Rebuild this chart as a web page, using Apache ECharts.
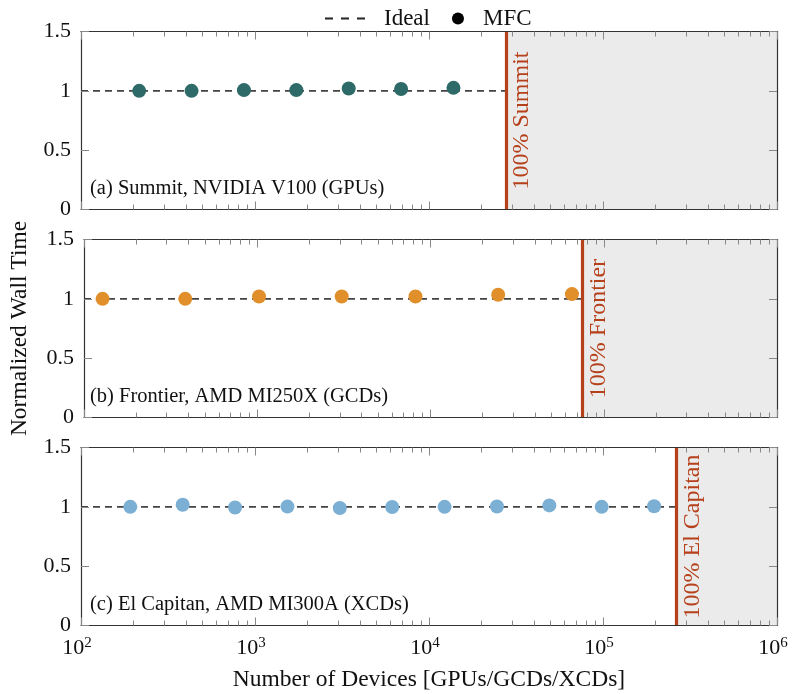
<!DOCTYPE html>
<html><head><meta charset="utf-8">
<script src="https://cdn.jsdelivr.net/npm/echarts@6/dist/echarts.min.js"></script>
<style>html,body{margin:0;padding:0;background:#fff}#c{width:793px;height:694px}</style>
</head><body><div id="c"></div>
<script>
// ---- data ----
const panelTitles = ['(a) Summit, NVIDIA V100 (GPUs)', '(b) Frontier, AMD MI250X (GCDs)', '(c) El Capitan, AMD MI300A (XCDs)'];
const fullLabels = ['100% Summit', '100% Frontier', '100% El Capitan'];
const fullSystem = [27648, 75264, 264000];
const summitX = [216, 432, 864, 1728, 3456, 6912, 13824];
const summitY = [1.000, 1.000, 1.006, 1.006, 1.020, 1.015, 1.025];
const frontierX = [128, 384, 1024, 3072, 8192, 24576, 65536];
const frontierY = [1.000, 1.000, 1.020, 1.020, 1.020, 1.035, 1.040];
const elcapX = [192, 384, 768, 1536, 3072, 6144, 12288, 24576, 49152, 98304, 196608];
const elcapY = [1.000, 1.017, 0.995, 1.002, 0.990, 0.998, 1.000, 1.003, 1.012, 1.000, 1.005];
const xMajor = [100, 1000, 10000, 100000, 1000000];
const xMinor = [200,300,400,500,600,700,800,900,2000,3000,4000,5000,6000,7000,8000,9000,
  20000,30000,40000,50000,60000,70000,80000,90000,200000,300000,400000,500000,600000,700000,800000,900000];
const idealY = 1;
const xName = 'Number of Devices [GPUs/GCDs/XCDs]';
const yName = 'Normalized Wall Time';

const pointsX = [summitX, frontierX, elcapX];
const pointsY = [summitY, frontierY, elcapY];
const colors = ['#2e6b68', '#e08f2a', '#7bafd4'];

const FONT = 'Liberation Serif';
const FRAME = '#333333';
const TICK = '#888888';
const RED = '#b5401a';
const TXT = '#111111';
const tops = [31.5, 239.5, 447.5];
const H = 178;

const grid = [], xAxis = [], yAxis = [], series = [], title = [];
for (let i = 0; i < 3; i++) {
  grid.push({left: 81, right: 16, top: tops[i], height: H});
  title.push({text: panelTitles[i], left: 90, top: tops[i] + H - 31, padding: 0,
    textStyle: {fontFamily: FONT, fontSize: 20.5, fontWeight: 'normal', color: TXT}});
  const base = {type: 'log', logBase: 10, gridIndex: i, min: 100, max: 1000000, z: 10,
    splitLine: {show: false}, minorTick: {show: false}};
  const isLast = i === 2;
  ['bottom', 'top'].forEach(pos => {
    xAxis.push(Object.assign({}, base, {
      position: pos,
      axisLine: {show: true, lineStyle: {color: FRAME, width: 1.2}},
      axisTick: {show: true, inside: true, length: 8, lineStyle: {color: TICK}, customValues: xMajor},
      axisLabel: (pos === 'bottom' && isLast) ? {
        show: true, margin: 10, customValues: xMajor,
        formatter: v => '{b|10}{s|' + Math.round(Math.log10(v)) + '}',
        rich: {b: {fontFamily: FONT, fontSize: 22, color: TXT},
               s: {fontFamily: FONT, fontSize: 15, color: TXT, padding: [0, 8, 10, 0]}}
      } : {show: false},
      name: (pos === 'bottom' && isLast) ? xName : '',
      nameLocation: 'middle', nameGap: 42,
      nameTextStyle: {fontFamily: FONT, fontSize: 23.5, color: TXT}
    }));
    xAxis.push(Object.assign({}, base, {
      position: pos,
      axisLine: {show: false},
      axisTick: {show: true, inside: true, length: 5, lineStyle: {color: TICK}, customValues: xMinor},
      axisLabel: {show: false}
    }));
  });
  ['left', 'right'].forEach(pos => {
    yAxis.push({type: 'value', gridIndex: i, position: pos, min: 0, max: 1.5, interval: 0.5, z: 10,
      splitLine: {show: false},
      axisLine: {show: true, lineStyle: {color: FRAME, width: 1.2}},
      axisTick: {show: true, inside: true, length: 8, lineStyle: {color: TICK}},
      axisLabel: pos === 'left' ? {show: true, margin: 10, fontFamily: FONT, fontSize: 22, color: TXT} : {show: false},
      name: (pos === 'left' && i === 1) ? yName : '',
      nameLocation: 'middle', nameGap: 52,
      nameTextStyle: {fontFamily: FONT, fontSize: 23.5, color: TXT}
    });
  });
  series.push({
    name: 'Ideal', type: 'line', xAxisIndex: 4 * i, yAxisIndex: 2 * i,
    data: [[100, idealY], [fullSystem[i], idealY]],
    symbol: 'none', silent: true, z: 3,
    lineStyle: {color: '#444', width: 1.6, type: [7, 5]},
    markArea: {silent: true, itemStyle: {color: '#ebebeb'},
      data: [[{xAxis: fullSystem[i]}, {xAxis: 1000000}]]},
    markLine: {silent: true, symbol: ['none', 'none'], z: 6,
      lineStyle: {color: RED, width: 3.2, type: 'solid'},
      label: {show: true, formatter: fullLabels[i], position: 'insideMiddleBottom', distance: 4,
        fontFamily: FONT, fontSize: 24, color: RED},
      data: [{xAxis: fullSystem[i]}]}
  });
  series.push({
    name: 'MFC', type: 'scatter', xAxisIndex: 4 * i, yAxisIndex: 2 * i, z: 5,
    data: pointsX[i].map((x, k) => [x, pointsY[i][k]]),
    symbol: 'circle', symbolSize: 14, itemStyle: {color: colors[i], opacity: 1}
  });
}

const chart = echarts.init(document.getElementById('c'), null, {renderer: 'canvas'});
chart.setOption({
  animation: false,
  backgroundColor: '#fff',
  title: title,
  legend: {
    left: 320, top: 2, itemWidth: 40, itemHeight: 12, itemGap: 22,
    selectedMode: false,
    textStyle: {fontFamily: FONT, fontSize: 23, color: TXT},
    data: [
      {name: 'Ideal', icon: 'path://M0,0H8V2H0Z M16,0H24V2H16Z M32,0H40V2H32Z',
       itemStyle: {color: '#222'}, lineStyle: {opacity: 0},
       textStyle: {padding: [0, 0, 0, 14]}},
      {name: 'MFC', icon: 'circle', itemStyle: {color: '#000'}}
    ]
  },
  grid: grid, xAxis: xAxis, yAxis: yAxis, series: series
});
</script></body></html>
